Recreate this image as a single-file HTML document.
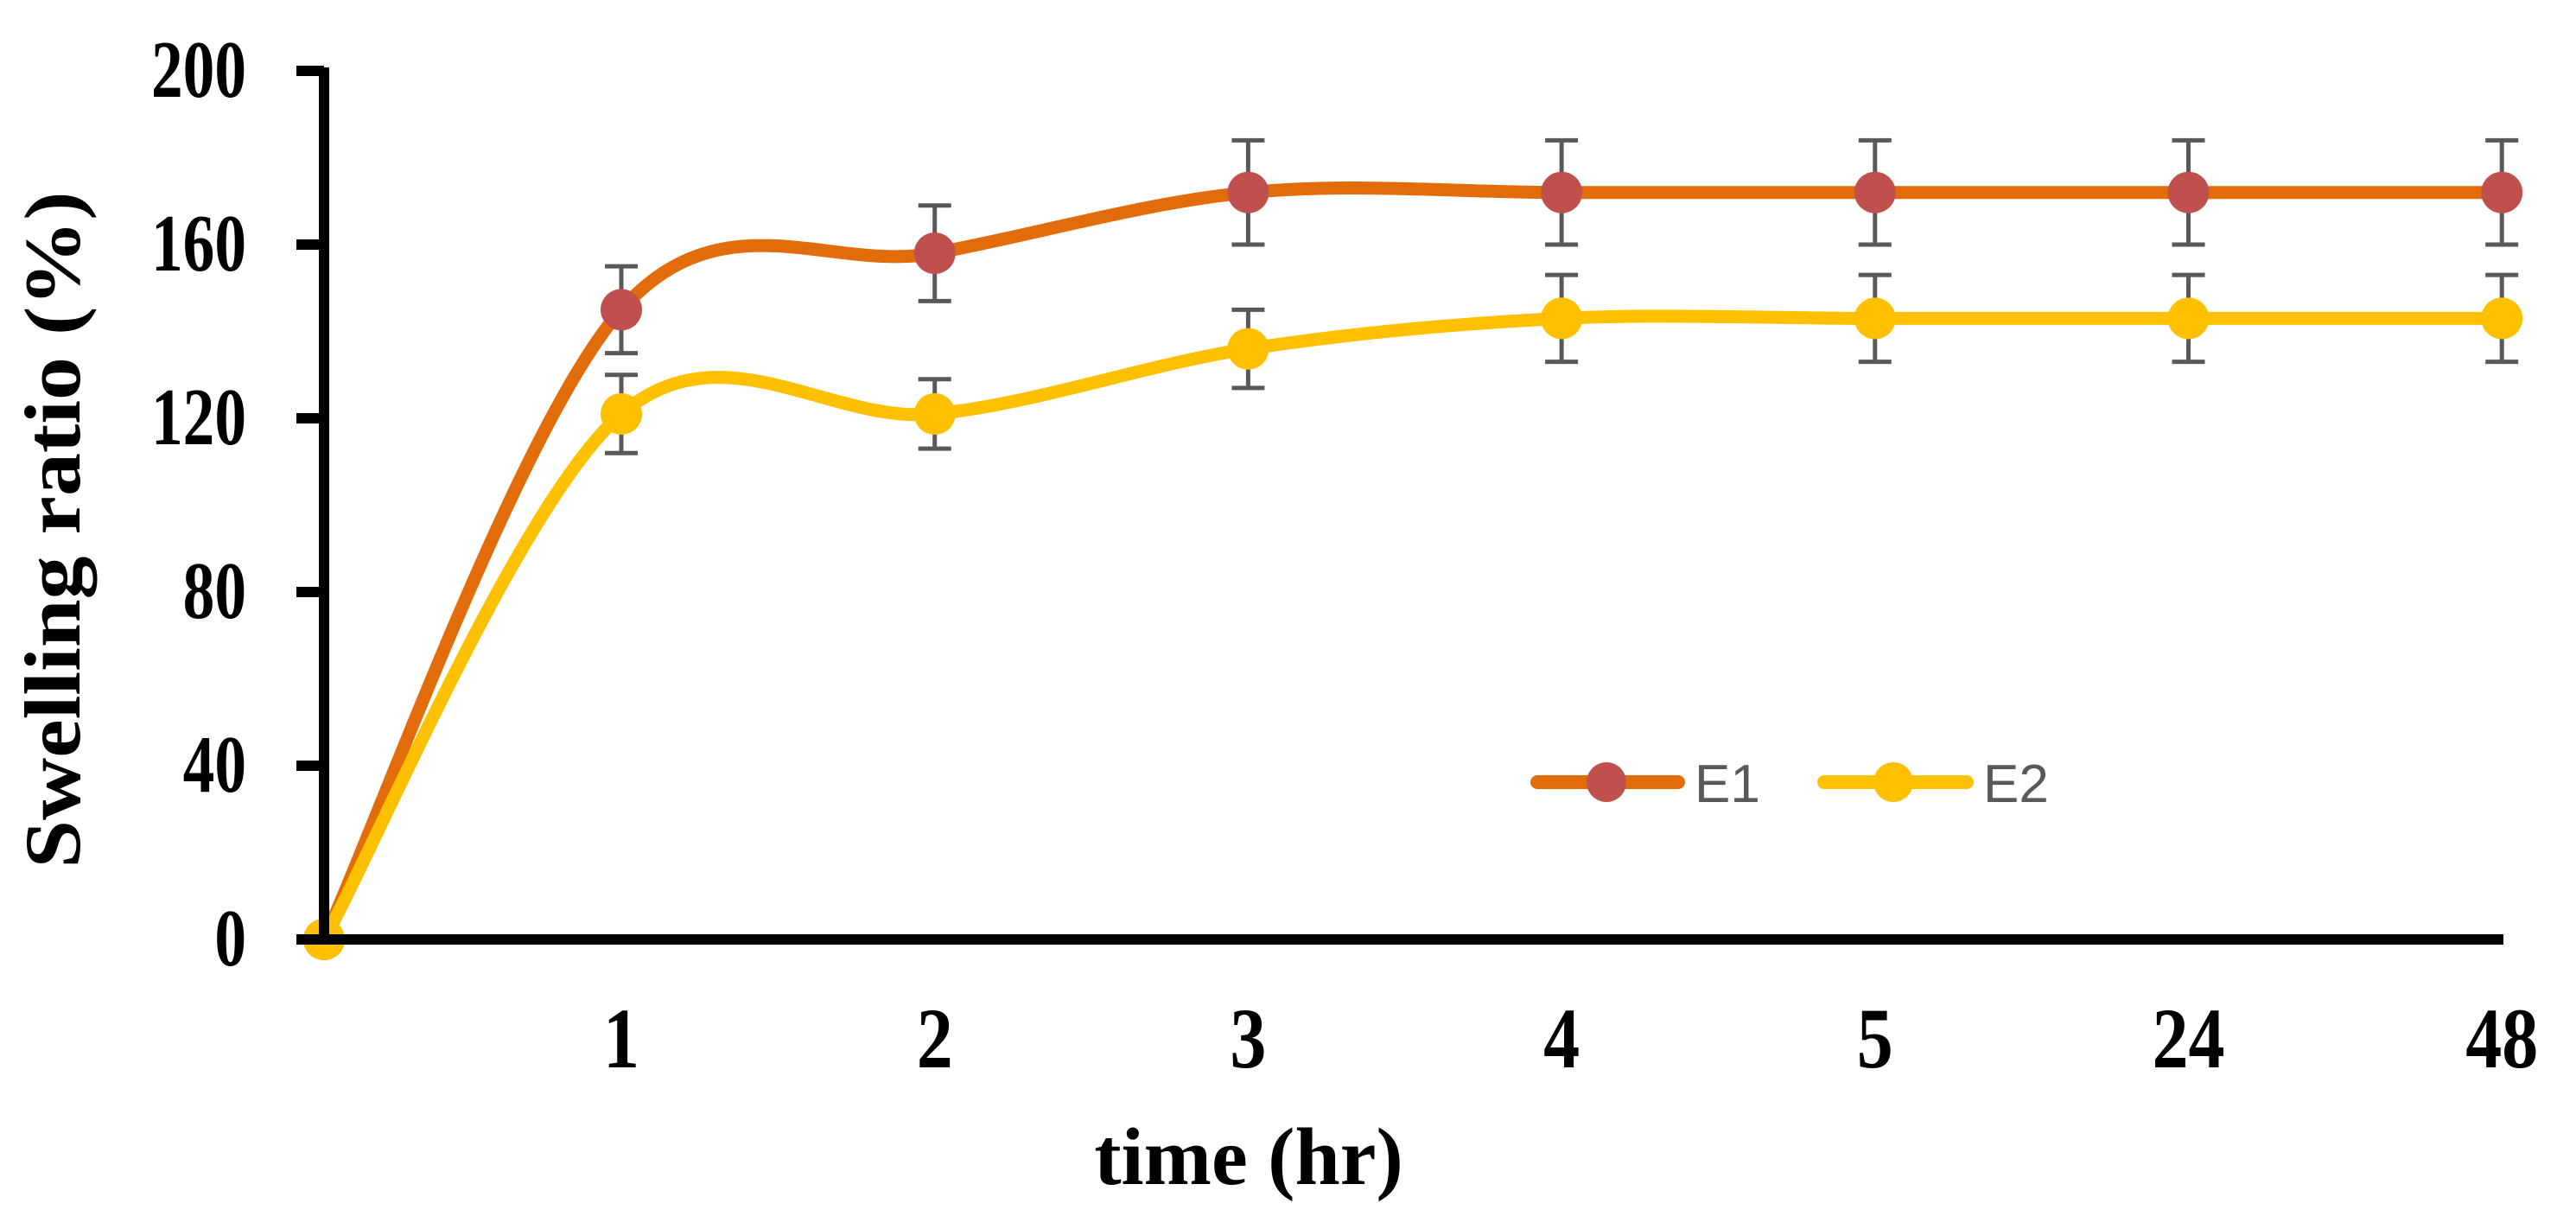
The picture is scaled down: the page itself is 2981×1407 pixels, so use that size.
<!DOCTYPE html>
<html><head><meta charset="utf-8"><style>
html,body{margin:0;padding:0;background:#fff;}
svg{display:block;}
</style></head><body>
<svg id="chart" width="2981" height="1407" viewBox="0 0 2981 1407" xmlns="http://www.w3.org/2000/svg">
<rect width="2981" height="1407" fill="#fff"/>
<g id="series"></g>
<g id="axes"></g>
<text transform="translate(92,613) rotate(-90) scale(1,0.92)" text-anchor="middle" font-family="Liberation Serif, serif" font-weight="bold" font-size="100">Swelling ratio (%)</text>
<text x="1445" y="1370" text-anchor="middle" font-family="Liberation Serif, serif" font-weight="bold" font-size="94">time (hr)</text>
<g>
  <g>
    <line x1="1779" y1="905" x2="1942" y2="905" stroke="#E36C0A" stroke-width="16" stroke-linecap="round"/>
    <circle cx="1859" cy="905" r="23" fill="#C0504D"/>
    <text x="1961" y="928" font-family="Liberation Sans, sans-serif" font-size="62" fill="#595959">E1</text>
  </g>
  <g>
    <line x1="2111" y1="905" x2="2276" y2="905" stroke="#FFC000" stroke-width="16" stroke-linecap="round"/>
    <circle cx="2191" cy="905" r="23" fill="#FFC000"/>
    <text x="2295" y="928" font-family="Liberation Sans, sans-serif" font-size="62" fill="#595959">E2</text>
  </g>
</g>
</svg>
<script>
const categories = ["", "1", "2", "3", "4", "5", "24", "48"];
const e1Values = [0, 145, 158, 172, 172, 172, 172, 172];
const e1Errors = [0, 10, 11, 12, 12, 12, 12, 12];
const e2Values = [0, 121, 121, 136, 143, 143, 143, 143];
const e2Errors = [0, 9, 8, 9, 10, 10, 10, 10];
const yTicks = [0, 40, 80, 120, 160, 200];

const NS = "http://www.w3.org/2000/svg";
const X0 = 375, X1 = 719, STEP = 362.7, YB = 1087, YT = 82, YMAX = 200;
const YLS = 0.78, XLS = 0.84;
function xPos(i){ return i === 0 ? X0 : X1 + (i - 1) * STEP; }
function yPos(v){ return YB - (v / YMAX) * (YB - YT); }
function mk(tag, attrs, parent){
  const el = document.createElementNS(NS, tag);
  for (const k in attrs) el.setAttribute(k, attrs[k]);
  parent.appendChild(el);
  return el;
}
const axes = document.getElementById('axes');
const series = document.getElementById('series');

let ax = mk('line', {x1: X0 - 6, y1: YB, x2: 2897, y2: YB, stroke: '#000', 'stroke-width': 12}, axes);


let ay = mk('line', {x1: X0, y1: YT - 4, x2: X0, y2: YB + 6, stroke: '#000', 'stroke-width': 12}, axes);



yTicks.forEach(v => {
  const y = yPos(v);
  const t = mk('line', {x1: 343, y1: y, x2: X0, y2: y, stroke: '#000', 'stroke-width': 12}, axes);
  
  
  const lb = mk('text', {x: 285 / YLS, y: y + 30, transform: 'scale(' + YLS + ',1)', 'text-anchor': 'end', 'font-family': 'Liberation Serif, serif', 'font-weight': 'bold', 'font-size': 94}, axes);
  lb.textContent = v;
  
  
});
categories.forEach((c, i) => {
  if (!c) return;
  const lb = mk('text', {x: xPos(i) / XLS, y: 1235, transform: 'scale(' + XLS + ',1)', 'text-anchor': 'middle', 'font-family': 'Liberation Serif, serif', 'font-weight': 'bold', 'font-size': 100}, axes);
  lb.textContent = c;
  
  
});

function smoothPath(pts){
  let d = 'M' + pts[0][0] + ',' + pts[0][1];
  const t = 1 / 3;
  for (let i = 0; i < pts.length - 1; i++){
    const p0 = pts[Math.max(0, i - 1)], p1 = pts[i], p2 = pts[i + 1], p3 = pts[Math.min(pts.length - 1, i + 2)];
    const c1x = p1[0] + (p2[0] - p0[0]) * t / 2, c1y = p1[1] + (p2[1] - p0[1]) * t / 2;
    const c2x = p2[0] - (p3[0] - p1[0]) * t / 2, c2y = p2[1] - (p3[1] - p1[1]) * t / 2;
    d += ' C' + c1x + ',' + c1y + ' ' + c2x + ',' + c2y + ' ' + p2[0] + ',' + p2[1];
  }
  return d;
}
function drawSeries(vals, errs, lineColor, markerColor, name){
  const g = mk('g', {}, series);
  
  
  const pts = vals.map((v, i) => [xPos(i), yPos(v)]);
  const p = mk('path', {d: smoothPath(pts), fill: 'none', stroke: lineColor, 'stroke-width': 15, 'stroke-linejoin': 'round'}, g);
  
  
  vals.forEach((v, i) => {
    if (errs[i] > 0){
      const x = xPos(i), yt = yPos(v + errs[i]), yb = yPos(v - errs[i]);
      const eb = mk('path', {d: 'M' + x + ',' + yt + 'V' + yb + 'M' + (x - 19) + ',' + yt + 'H' + (x + 19) + 'M' + (x - 19) + ',' + yb + 'H' + (x + 19), stroke: '#595959', 'stroke-width': 5, fill: 'none'}, g);
      
      
    }
  });
  vals.forEach((v, i) => {
    const c = mk('circle', {cx: xPos(i), cy: yPos(v), r: 24, fill: markerColor}, g);
    
    
  });
}
drawSeries(e1Values, e1Errors, '#E36C0A', '#C0504D', 'series-e1');
drawSeries(e2Values, e2Errors, '#FFC000', '#FFC000', 'series-e2');
</script>
</body></html>
